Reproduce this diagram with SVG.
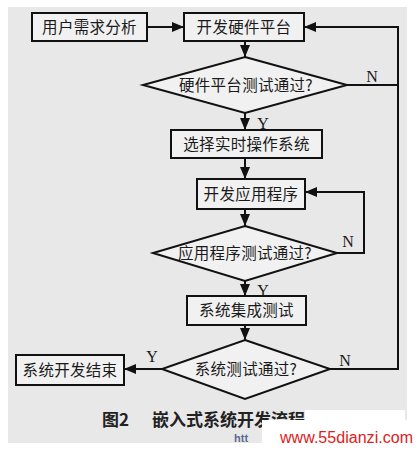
<svg xmlns="http://www.w3.org/2000/svg" width="417" height="449" viewBox="0 0 417 449">
<style>
.bg{fill:#e8e8e8}
.node rect,.node polygon{fill:#f1f1f1;stroke:#111;stroke-width:2}
.t{font-family:"Noto Sans CJK SC","Noto Sans CJK JP",sans-serif;font-size:15.5px;fill:#1a1a1a;text-anchor:middle;letter-spacing:0.3px}
.yn{font-family:"Liberation Serif",serif;font-size:16px;fill:#1a1a1a;text-anchor:middle}
.edges path{fill:none;stroke:#111;stroke-width:2}
.cap{font-family:"Noto Sans CJK SC",sans-serif;font-size:17px;font-weight:bold;fill:#222}
</style>
<defs>
<marker id="ah" viewBox="0 0 12 10" refX="12" refY="5" markerWidth="12" markerHeight="10" markerUnits="userSpaceOnUse" orient="auto">
<path d="M0,0 L12,5 L0,10 Z" fill="#111"/>
</marker>
</defs>
<rect x="0" y="0" width="417" height="449" fill="#ffffff"/>
<rect class="bg" x="8" y="7" width="399" height="436"/>

<g class="edges">
<path d="M147,27 H184" marker-end="url(#ah)"/>
<path d="M245,41 V57" marker-end="url(#ah)"/>
<path d="M347,85 H398 V27 H304" marker-end="url(#ah)"/>
<path d="M245,113 V130" marker-end="url(#ah)"/>
<path d="M245,158 V179" marker-end="url(#ah)"/>
<path d="M245,209 V226" marker-end="url(#ah)"/>
<path d="M337,253 H364 V192 H305" marker-end="url(#ah)"/>
<path d="M245,281 V296" marker-end="url(#ah)"/>
<path d="M245,325 V340" marker-end="url(#ah)"/>
<path d="M162,369 H124" marker-end="url(#ah)"/>
<path d="M330,369 H398 V85"/>
</g>

<g id="n1" class="node"><rect x="32" y="13" width="115" height="28"/><text class="t" x="89.5" y="32.5">用户需求分析</text></g>
<g id="n2" class="node"><rect x="184" y="13" width="120" height="28"/><text class="t" x="244" y="32.5">开发硬件平台</text></g>
<g id="d1" class="node"><polygon points="245,57 347,85 245,113 143,85"/><text class="t" x="246" y="90.5">硬件平台测试通过?</text></g>
<g id="n3" class="node"><rect x="171" y="130" width="151" height="28"/><text class="t" x="246.5" y="149.5">选择实时操作系统</text></g>
<g id="n4" class="node"><rect x="197" y="179" width="108" height="30"/><text class="t" x="251" y="199.5">开发应用程序</text></g>
<g id="d2" class="node"><polygon points="245,226 337,253 245,281 153,253"/><text class="t" x="245" y="258.5">应用程序测试通过?</text></g>
<g id="n5" class="node"><rect x="187" y="296" width="119" height="29"/><text class="t" x="246.5" y="316">系统集成测试</text></g>
<g id="d3" class="node"><polygon points="245,340 330,369 245,399 162,369"/><text class="t" x="246" y="374.5">系统测试通过?</text></g>
<g id="n6" class="node"><rect x="16" y="355" width="108" height="30"/><text class="t" x="70" y="375.5">系统开发结束</text></g>

<g id="labels">
<text class="yn" x="372" y="82">N</text>
<text class="yn" x="263" y="129">Y</text>
<text class="yn" x="348" y="247">N</text>
<text class="yn" x="263" y="296">Y</text>
<text class="yn" x="152" y="362">Y</text>
<text class="yn" x="345" y="366">N</text>
</g>

<g id="caption">
<text class="cap" x="102" y="426">图2</text>
<text class="cap" x="152" y="426">嵌入式系统开发流程</text>
<rect x="262" y="420" width="155" height="29" fill="#ffffff"/>
<rect x="305" y="410" width="100" height="10" fill="#ffffff"/>
<text x="234" y="442" font-family="Liberation Sans, sans-serif" font-size="11" font-weight="bold" fill="#5a6a90">htt</text>
<text x="280" y="443" font-family="Liberation Sans, sans-serif" font-size="16" fill="#e0201a" textLength="133">www.55dianzi.com</text>
</g>
</svg>
